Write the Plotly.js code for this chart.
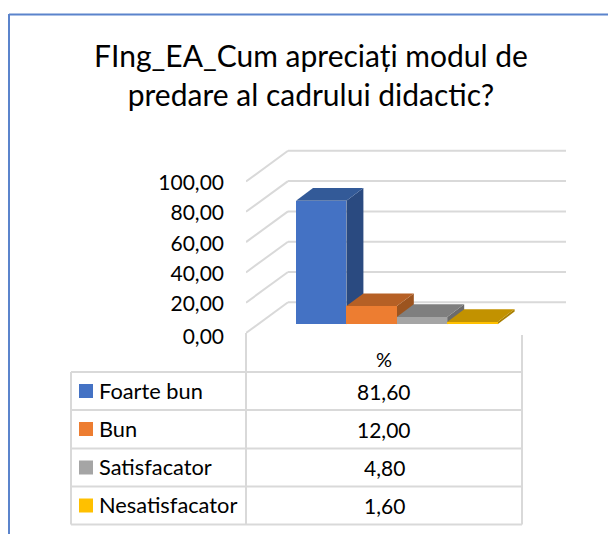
<!DOCTYPE html>
<html><head><meta charset="utf-8">
<script src="https://cdn.plot.ly/plotly-3.0.1.min.js"></script>
<style>html,body{margin:0;padding:0;background:#fff;overflow:hidden}</style>
</head><body><div id="chart" style="width:608px;height:534px"></div>
<script>
const titleLines = ["FIng_EA_Cum apreciați modul de", "predare al cadrului didactic?"];
const categories = ["Foarte bun", "Bun", "Satisfacator", "Nesatisfacator"];
const values = [81.60, 12.00, 4.80, 1.60];
const valueLabels = ["81,60", "12,00", "4,80", "1,60"];
const seriesName = "%";
const tickValues = [0, 20, 40, 60, 80, 100];
const tickLabels = ["0,00", "20,00", "40,00", "60,00", "80,00", "100,00"];
const frontColors = ["#4472c4", "#ed7d31", "#a5a5a5", "#ffc000"];
const topColors = ["#335a98", "#b66025", "#7f7f7f", "#c29200"];
const sideColors = ["#2a4a80", "#9c541f", "#6b6b6b", "#a87f00"];

// Plot frame in page pixels; value 0 on the front floor edge is at page y = Y0
const L = 246, R = 566, T = 140, B = 345, Y0 = 333, S = 1.515;
const px = x => (x - L) / (R - L);
const py = y => (B - y) / (B - T);

// Axis scales
const xAt = x => (x - 321.2) / 50.4;
const yRange = [(Y0 - B) / S, (Y0 - T) / S];
const barBase = 5.74;      // bar foot sits in from the front floor edge
const barDx = 17 / 50.4, barDy = 12.7 / S;
const wallDy = 30.7 / S;
// Labels sit a little below their gridline corner, the zero label more so
const labelPositions = tickValues.map(v => v === 0 ? -2.6 : v - 0.8);

const traces = [];
values.forEach((v, i) => {
  const t = barBase + v, l = i - .5, r = i + .5;
  traces.push({type: "scatter", mode: "lines", fill: "toself", fillcolor: sideColors[i], line: {width: 0, color: sideColors[i]},
    x: [r, r, r + barDx, r + barDx, r], y: [barBase, t, t + barDy, barBase + barDy, barBase],
    showlegend: false, hoverinfo: "skip"});
  traces.push({type: "scatter", mode: "lines", fill: "toself", fillcolor: topColors[i], line: {width: 0, color: topColors[i]},
    x: [l, r, r + barDx, l + barDx, l], y: [t, t, t + barDy, t + barDy, t],
    showlegend: false, hoverinfo: "skip"});
});
traces.push({type: "bar", xaxis: "x2", yaxis: "y2", x: categories.map((c, i) => i), y: values, base: values.map(() => barBase),
  width: 1, marker: {color: frontColors, line: {width: 0}}, showlegend: false, hoverinfo: "skip",
  text: categories, textposition: "none"});

const gridColor = "#d9d9d9";
const frameColor = "#5b84cc";
const shapes = [];
const gridLine = {color: gridColor, width: 2};
tickValues.forEach(v => {
  shapes.push({type: "line", layer: "below", xref: "x", yref: "y", x0: xAt(246), y0: v, x1: xAt(288), y1: v + wallDy, line: gridLine});
  shapes.push({type: "line", layer: "below", xref: "x", yref: "y", x0: xAt(288), y0: v + wallDy, x1: xAt(566), y1: v + wallDy, line: gridLine});
});
const pageLine = (x0, y0, x1, y1, line) => shapes.push({type: "line", layer: "below", xref: "paper", yref: "paper",
  x0: px(x0), y0: py(y0), x1: px(x1), y1: py(y1), line});
// Outer frame
pageLine(9, 14.5, 608, 14.5, {color: frameColor, width: 2});
pageLine(9, 14, 9, 534, {color: frameColor, width: 2});
// Data table rules
const rowYs = [372, 410, 448.5, 486.5, 524.5];
rowYs.forEach(y => pageLine(71, y, 522, y, gridLine));
pageLine(71, 372, 71, 524.5, gridLine);
pageLine(246, 333, 246, 524.5, gridLine);
pageLine(522, 335, 522, 524.5, gridLine);

const annotations = [];
const note = (x, y, text, anchor, size) => annotations.push({xref: "paper", yref: "paper", x: px(x), y: py(y), text,
  xanchor: anchor, yanchor: "middle", showarrow: false, font: {family: "Lato", size, color: "#000"}});
note(384, 359, seriesName, "center", 20);
const rowCenters = [391, 429, 467.5, 505.5];
categories.forEach((c, i) => {
  note(97, rowCenters[i] - 1, c, "left", 21.8);
  note(384, rowCenters[i], valueLabels[i], "center", 21);
  shapes.push({type: "rect", layer: "above", xref: "paper", yref: "paper",
    x0: px(79), x1: px(93), y0: py(rowCenters[i] - 7), y1: py(rowCenters[i] + 7),
    fillcolor: frontColors[i], line: {width: 0}});
});

const layout = {
  width: 608, height: 534,
  margin: {l: L, r: 608 - R, t: T, b: 534 - B, pad: 0},
  paper_bgcolor: "#fff", plot_bgcolor: "rgba(0,0,0,0)",
  title: {text: titleLines.join("<br>"), x: 311 / 608, xanchor: "center", y: 1 - 67 / 534, yanchor: "middle",
    font: {family: "Lato", size: 30, color: "#000"}},
  xaxis: {visible: false, range: [xAt(L), xAt(R)], fixedrange: true},
  yaxis: {range: yRange, tickmode: "array", tickvals: labelPositions, ticktext: tickLabels,
    showgrid: false, zeroline: false, showline: false, ticks: "", ticklabelstandoff: 21,
    tickfont: {family: "Lato", size: 21, color: "#000"}, fixedrange: true},
  xaxis2: {visible: false, overlaying: "x", range: [xAt(L), xAt(R)], fixedrange: true},
  yaxis2: {visible: false, overlaying: "y", range: yRange, fixedrange: true},
  barmode: "overlay", bargap: 0, showlegend: false, shapes, annotations
};
Plotly.newPlot("chart", traces, layout, {displayModeBar: false, staticPlot: true});
</script></body></html>
